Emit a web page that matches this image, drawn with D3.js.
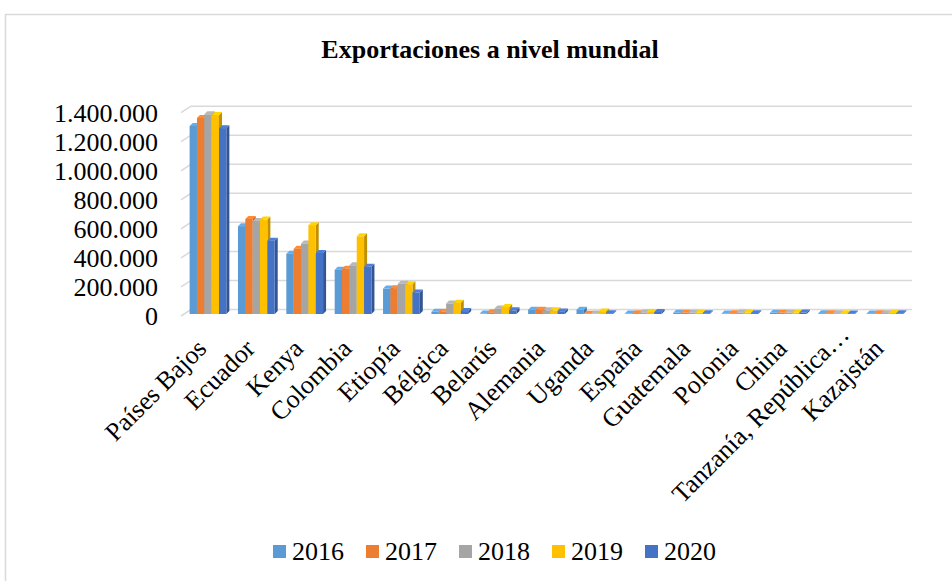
<!DOCTYPE html>
<html lang="es">
<head>
	<meta charset="UTF-8">
	<title>Exportaciones a nivel mundial</title>
	<script src="https://d3js.org/d3.v7.min.js"></script>
	<style>
		body { margin: 0; background: #fff; }
	</style>
</head>
<body>
	<script type="text/javascript">
		// data
		var categories = ["Países Bajos", "Ecuador", "Kenya", "Colombia", "Etiopía", "Bélgica", "Belarús",
			"Alemania", "Uganda", "España", "Guatemala", "Polonia", "China", "Tanzanía, República…", "Kazajstán"];
		var years = ["2016", "2017", "2018", "2019", "2020"];
		var v2016 = [1295000, 605000, 415000, 305000, 175000, 15000, 3000, 30000, 30000, 3000, 8000, 3000, 8000, 5000, 4000];
		var v2017 = [1350000, 655000, 450000, 312000, 178000, 15000, 12000, 30000, 2000, 6000, 8000, 5000, 8000, 5000, 5000];
		var v2018 = [1375000, 640000, 485000, 335000, 208000, 72000, 38000, 25000, 3000, 10000, 8000, 10000, 8000, 5000, 6000];
		var v2019 = [1370000, 650000, 612000, 535000, 205000, 78000, 48000, 25000, 18000, 14000, 8000, 8000, 8000, 5000, 7000];
		var v2020 = [1280000, 505000, 420000, 325000, 148000, 20000, 25000, 18000, 5000, 14000, 5000, 6000, 10000, 4000, 5000];
		var yTicks = [0, 200000, 400000, 600000, 800000, 1000000, 1200000, 1400000];

		var series = [v2016, v2017, v2018, v2019, v2020];
		var colors = ["#5B9BD5", "#ED7D31", "#A5A5A5", "#FFC000", "#4472C4"];
		var font = "'Liberation Serif', 'Times New Roman', 'DejaVu Serif', serif";

		var w = 952;
		var h = 581;
		var d = 3; // depth of the 3d bars

		var svg = d3.select("body").append("svg").attr("width", w).attr("height", h)
			.attr("font-family", font);

		// chart frame
		svg.append("rect").attr("x", 5.5).attr("y", 14.5).attr("width", 960).attr("height", 600)
			.attr("fill", "none").attr("stroke", "#d9d9d9").attr("stroke-width", 1.5);

		svg.append("text").attr("x", 490).attr("y", 58).attr("text-anchor", "middle")
			.attr("font-size", "26px").attr("font-weight", "bold").text("Exportaciones a nivel mundial");

		var xScale = d3.scaleBand().domain(categories).range([178, 915]).padding(0.24);
		var inner = d3.scaleBand().domain(years).range([0, xScale.bandwidth()]);
		var yWall = d3.scaleLinear().domain([0, 1400000]).range([316, 112.7]);
		var yBar = d3.scaleLinear().domain([0, 1400000]).range([314, 110.7]);

		// gridlines on the back wall with the side-wall step
		var grid = svg.append("g").attr("fill", "none").attr("stroke", "#d9d9d9").attr("stroke-width", 1.5);
		grid.selectAll("path").data(yTicks).enter().append("path")
			.attr("d", function(t) {
				var y = yWall(t);
				return "M181," + y + "L191," + (y - 6.5) + "L912," + (y - 6.5);
			});

		// y labels
		svg.selectAll("text.ylab").data(yTicks).enter().append("text").attr("class", "ylab")
			.attr("x", 158).attr("y", function(t) { return yWall(t) + 9; })
			.attr("text-anchor", "end").attr("font-size", "26px")
			.text(function(t) { return d3.format(",")(t).replace(/,/g, "."); });

		function shade(c, k) { return d3.color(c).darker(k).formatHex(); }

		var bars = svg.append("g");
		categories.forEach(function(cat, i) {
			series.forEach(function(vals, s) {
				var x = xScale(cat) + inner(years[s]);
				var bw = inner.bandwidth();
				var y = yBar(vals[i]);
				var base = yBar(0);
				var g = bars.append("g");
				g.append("polygon")
					.attr("points", [[x + bw, y], [x + bw + d, y - d], [x + bw + d, base - d], [x + bw, base]].join(" "))
					.attr("fill", shade(colors[s], 0.8));
				g.append("polygon")
					.attr("points", [[x, y], [x + d, y - d], [x + bw + d, y - d], [x + bw, y]].join(" "))
					.attr("fill", d3.color(colors[s]).brighter(0.3).formatHex());
				g.append("rect").attr("x", x).attr("y", y).attr("width", bw).attr("height", base - y)
					.attr("fill", colors[s]);
			});
		});

		// category labels
		svg.selectAll("text.xlab").data(categories).enter().append("text").attr("class", "xlab")
			.attr("transform", function(c, i) {
				var shift = i === 13 ? 14 : 0; // the long truncated label sits further along its line
				return "translate(" + (xScale(c) + xScale.bandwidth() / 2 + shift) + "," + (350 - shift) + ") rotate(-45)";
			})
			.attr("text-anchor", "end").attr("font-size", "26px")
			.text(function(c) { return c; });

		// legend
		var legend = svg.append("g").selectAll("g").data(years).enter().append("g")
			.attr("transform", function(y, i) { return "translate(" + (273 + i * 93) + ",0)"; });
		legend.append("rect").attr("x", 0).attr("y", 545).attr("width", 13).attr("height", 13)
			.attr("fill", function(y, i) { return colors[i]; });
		legend.append("text").attr("x", 19).attr("y", 560).attr("font-size", "26px")
			.text(function(y) { return y; });
	</script>
</body>
</html>
